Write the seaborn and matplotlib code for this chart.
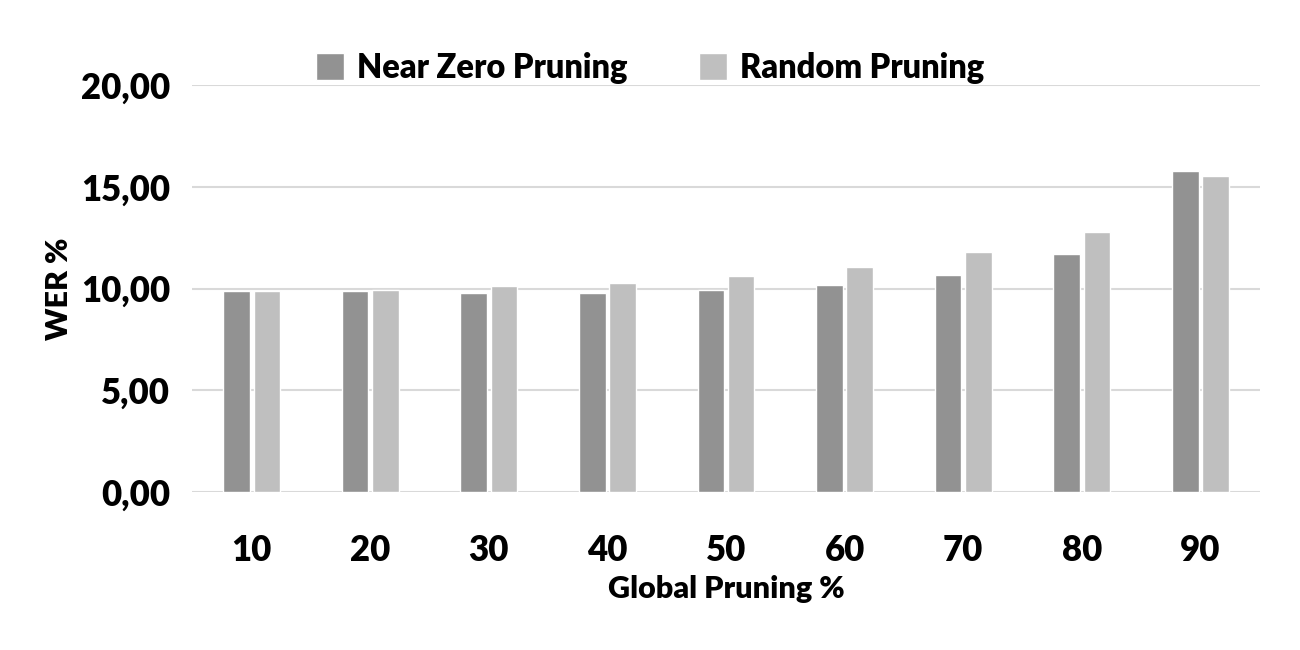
import pandas as pd
import matplotlib.pyplot as plt
from matplotlib.ticker import FuncFormatter
import seaborn as sns

# values
pruning = ['10', '20', '30', '40', '50', '60', '70', '80', '90']
near_zero = [9.86, 9.86, 9.79, 9.79, 9.94, 10.17, 10.65, 11.70, 15.79]
random_pr = [9.89, 9.94, 10.12, 10.27, 10.63, 11.07, 11.81, 12.79, 15.53]
methods = ['Near Zero Pruning', 'Random Pruning']
colors = ['#929292', '#bfbfbf']

df = pd.DataFrame({
    'pruning': pruning * 2,
    'wer': near_zero + random_pr,
    'method': [methods[0]] * len(pruning) + [methods[1]] * len(pruning),
})

sns.set_style('white')
plt.rcParams['font.family'] = ['Lato', 'DejaVu Sans']
plt.rcParams['font.weight'] = 'bold'
plt.rcParams['text.color'] = 'black'
plt.rcParams['xtick.color'] = 'black'
plt.rcParams['ytick.color'] = 'black'
plt.rcParams['axes.labelcolor'] = 'black'

fig = plt.figure(figsize=(13, 6.5), dpi=100)
ax = fig.add_axes([0.148, 0.243, 0.821, 0.626])

sns.barplot(data=df, x='pruning', y='wer', hue='method', palette=colors,
            width=0.51, gap=0.12, saturation=1, ax=ax, zorder=3)

ax.set_ylim(0, 20)
ax.set_xlim(-0.5, 8.5)
ax.set_yticks([0, 5, 10, 15, 20])
ax.yaxis.set_major_formatter(FuncFormatter(lambda v, p: f'{v:.2f}'.replace('.', ',')))
ax.grid(axis='y', color='#d9d9d9', linewidth=1.5, zorder=0)
for s in ax.spines.values():
    s.set_visible(False)
ax.tick_params(axis='both', length=0, labelsize=25)
ax.tick_params(axis='x', pad=30)
ax.tick_params(axis='y', pad=16)
for lbl in ax.get_xticklabels() + ax.get_yticklabels():
    lbl.set_fontweight('heavy')

ax.set_xlabel('Global Pruning %', fontsize=22, fontweight='heavy', labelpad=6)
ax.set_ylabel('WER %', fontsize=22, fontweight='heavy', labelpad=6)

ax.get_legend().remove()
handles, labels = ax.get_legend_handles_labels()
fig.legend(handles, labels, loc='upper center', bbox_to_anchor=(0.5, 0.965), ncol=2,
           frameon=False, prop={'size': 23.5, 'weight': 'heavy'},
           handlelength=0.85, handleheight=0.9, handletextpad=0.4, columnspacing=2.2)

fig.savefig('out.png', dpi=100)
